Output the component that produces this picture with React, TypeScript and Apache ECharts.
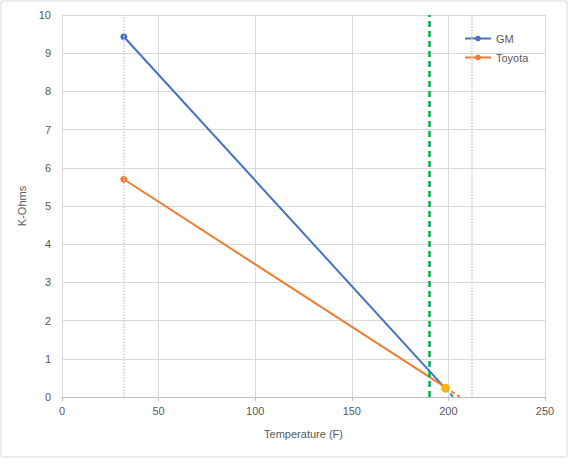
import React, { useEffect, useRef } from "react";
import * as echarts from "echarts";

const gmPoints: [number, number][] = [
  [32, 9.43],
  [198.5, 0.22],
];
const toyotaPoints: [number, number][] = [
  [32, 5.7],
  [198.5, 0.25],
];
const gmTrendExt: [number, number][] = [
  [198.5, 0.22],
  [202.5, 0],
];
const toyotaTrendExt: [number, number][] = [
  [198.5, 0.25],
  [206, 0],
];
const markerPoint: [number, number][] = [[198.5, 0.23]];
const referenceTemps = [32, 212];
const thermostatTemp = [190];

const FONT = "Liberation Sans";

export default function App() {
  const ref = useRef<HTMLDivElement>(null);
  useEffect(() => {
    document.body.style.margin = "0";
    const chart = echarts.init(ref.current!, null, { renderer: "svg" });
    chart.setOption({
      animation: false,
      backgroundColor: "#ffffff",
      textStyle: { fontFamily: FONT },
      graphic: [
        {
          type: "rect",
          shape: { x: 1, y: 1, width: 566, height: 456, r: 2 },
          style: { fill: "none", stroke: "#d9d9d9", lineWidth: 1 },
          silent: true,
          z: -1,
        },
      ],
      grid: { left: 62, right: 29, top: 15, bottom: 68 },
      legend: {
        data: ["GM", "Toyota"],
        orient: "vertical",
        left: 459,
        top: 28,
        itemWidth: 26,
        itemHeight: 7,
        itemGap: 8,
        textStyle: { fontFamily: FONT, fontSize: 11, color: "#595959" },
      },
      xAxis: {
        type: "value",
        min: 0,
        max: 250,
        interval: 50,
        name: "Temperature (F)",
        nameLocation: "middle",
        nameGap: 31,
        nameTextStyle: { fontFamily: FONT, fontSize: 11, color: "#595959" },
        axisLine: { show: true, lineStyle: { color: "#bfbfbf" } },
        axisTick: { show: true, length: 4, lineStyle: { color: "#bfbfbf" } },
        axisLabel: { fontFamily: FONT, fontSize: 11, color: "#595959", margin: 8 },
        splitLine: { show: true, lineStyle: { color: "#d9d9d9" } },
      },
      yAxis: {
        type: "value",
        min: 0,
        max: 10,
        interval: 1,
        name: "K-Ohms",
        nameLocation: "middle",
        nameGap: 33,
        nameRotate: 90,
        nameTextStyle: { fontFamily: FONT, fontSize: 11, color: "#595959" },
        axisLine: { show: false },
        axisTick: { show: false },
        axisLabel: { fontFamily: FONT, fontSize: 11, color: "#595959", margin: 11 },
        splitLine: { show: true, lineStyle: { color: "#d9d9d9" } },
      },
      series: [
        {
          name: "refs",
          type: "line",
          data: [],
          silent: true,
          markLine: {
            silent: true,
            symbol: "none",
            label: { show: false },
            lineStyle: { color: "#cccccc", type: "dotted", width: 1.5 },
            data: referenceTemps.map((t) => ({ xAxis: t })),
          },
        },
        {
          name: "thermostat",
          type: "line",
          data: [],
          silent: true,
          markLine: {
            silent: true,
            symbol: "none",
            label: { show: false },
            lineStyle: { color: "#00B050", type: [6, 4], width: 2.5 },
            data: thermostatTemp.map((t) => ({ xAxis: t })),
          },
        },
        {
          name: "GM trend",
          type: "line",
          data: gmTrendExt,
          showSymbol: false,
          symbol: "none",
          lineStyle: { color: "#4472C4", width: 2, type: [4, 3] },
          z: 3,
        },
        {
          name: "Toyota trend",
          type: "line",
          data: toyotaTrendExt,
          showSymbol: false,
          symbol: "none",
          lineStyle: { color: "#ED7D31", width: 2, type: [4, 3] },
          z: 3,
        },
        {
          name: "GM",
          type: "line",
          data: gmPoints,
          symbol: "circle",
          symbolSize: 7,
          itemStyle: { color: "#4472C4" },
          lineStyle: { color: "#4472C4", width: 2 },
          z: 4,
        },
        {
          name: "Toyota",
          type: "line",
          data: toyotaPoints,
          symbol: "circle",
          symbolSize: 7,
          itemStyle: { color: "#ED7D31" },
          lineStyle: { color: "#ED7D31", width: 2 },
          z: 4,
        },
        {
          name: "marker",
          type: "scatter",
          data: markerPoint,
          symbol: "circle",
          symbolSize: 9,
          itemStyle: { color: "#FFC000" },
          z: 5,
        },
      ],
    });
    return () => chart.dispose();
  }, []);
  return <div ref={ref} style={{ width: 574, height: 465 }} />;
}
